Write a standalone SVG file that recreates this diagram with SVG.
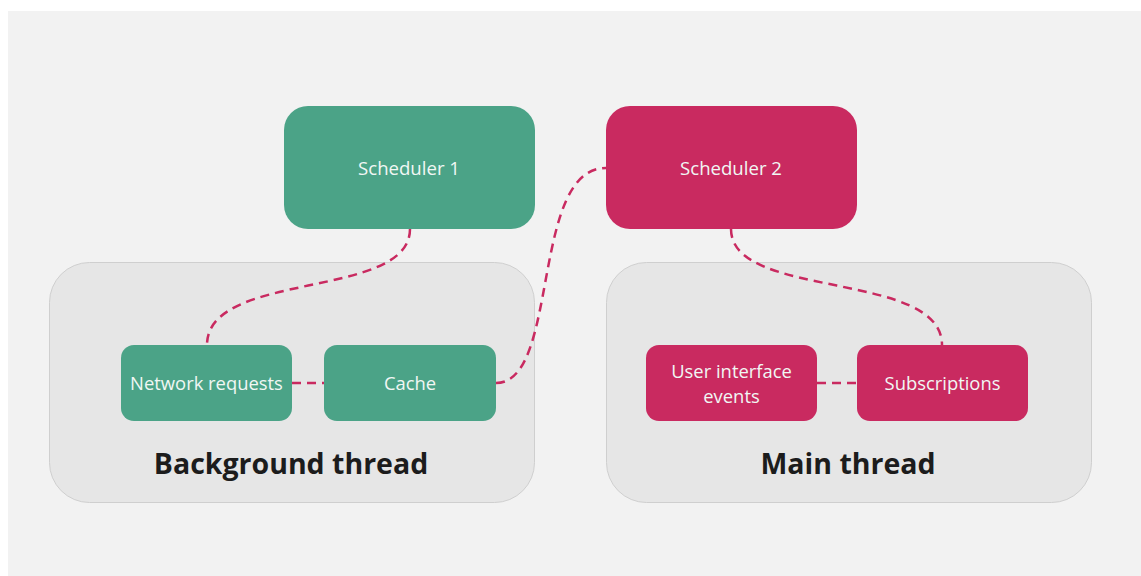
<svg xmlns="http://www.w3.org/2000/svg" width="1141" height="576" viewBox="0 0 1141 576">
<style>
.container{fill:#e6e6e6;stroke:#cfcfcf;stroke-width:1}
.green{fill:#4ba387}
.red{fill:#c92a60}
.lbl{font-family:"Open Sans","Noto Sans",sans-serif;font-size:18.4px;fill:#f1f7f4;text-anchor:middle}
.sched{font-size:18.6px}
.title{font-family:"Open Sans","Noto Sans",sans-serif;font-size:28.5px;font-weight:bold;fill:#1c1c1c;text-anchor:middle}
.conn{fill:none;stroke:#c92a60;stroke-width:2.5;stroke-dasharray:9 6}
</style>
<rect x="0" y="0" width="1141" height="576" fill="#ffffff"/>
<rect x="8" y="11" width="1133" height="565" fill="#f2f2f2"/>
<g id="background-thread">
<rect class="container" x="49.5" y="262.5" width="485" height="240" rx="40"/>
<text class="title" x="291" y="474">Background thread</text>
</g>
<g id="main-thread">
<rect class="container" x="606.5" y="262.5" width="485" height="240" rx="40"/>
<text class="title" x="848" y="474">Main thread</text>
</g>
<g id="connectors">
<path class="conn" d="M410,229 C410,300 207,270 207,345"/>
<path class="conn" d="M292,383 L324,383"/>
<path class="conn" d="M496,383 C560,383 530,168 606,168"/>
<path class="conn" d="M731,229 C731,300 942,270 942,345"/>
<path class="conn" d="M817,383 L857,383"/>
</g>
<g id="scheduler-1">
<rect class="green" x="284" y="106" width="251" height="123" rx="24"/>
<text class="lbl sched" x="409" y="175">Scheduler 1</text>
</g>
<g id="scheduler-2">
<rect class="red" x="606" y="106" width="251" height="123" rx="24"/>
<text class="lbl sched" x="731" y="175">Scheduler 2</text>
</g>
<g id="network-requests">
<rect class="green" x="121" y="345" width="171" height="76" rx="13"/>
<text class="lbl" x="206.5" y="390">Network requests</text>
</g>
<g id="cache">
<rect class="green" x="324" y="345" width="172" height="76" rx="13"/>
<text class="lbl" x="410" y="390">Cache</text>
</g>
<g id="user-interface-events">
<rect class="red" x="646" y="345" width="171" height="76" rx="13"/>
<text class="lbl" x="731.5" y="378">User interface</text>
<text class="lbl" x="731.5" y="403">events</text>
</g>
<g id="subscriptions">
<rect class="red" x="857" y="345" width="171" height="76" rx="13"/>
<text class="lbl" x="942.5" y="390">Subscriptions</text>
</g>
</svg>
